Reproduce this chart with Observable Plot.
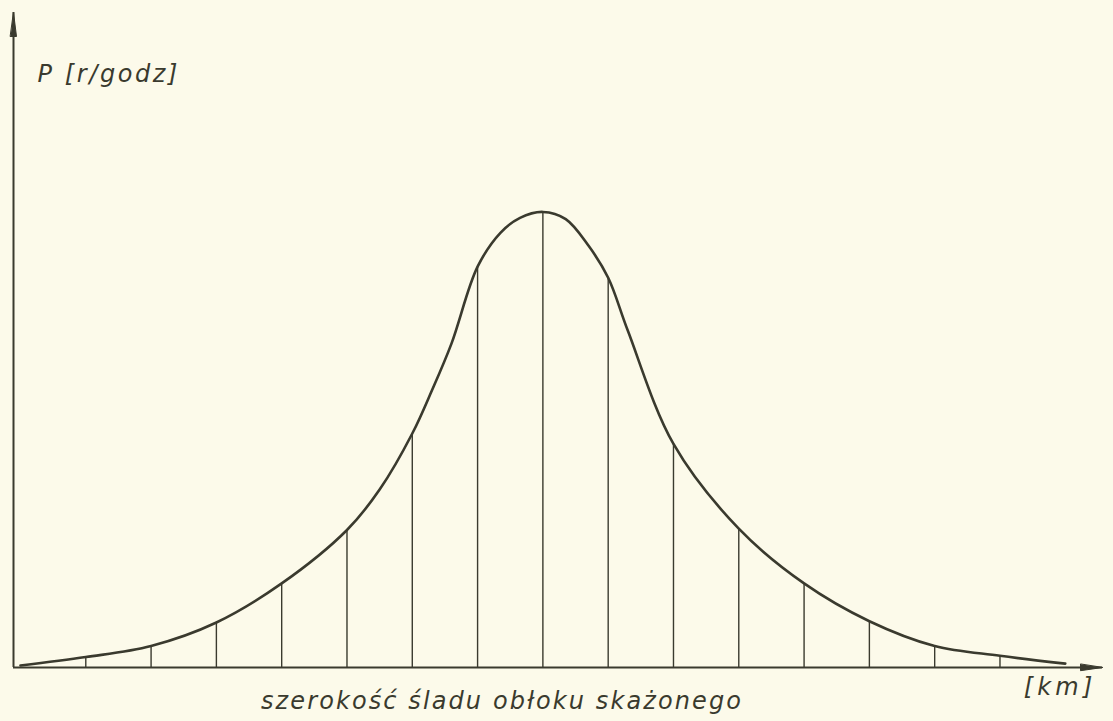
<!DOCTYPE html>
<html>
<head>
<meta charset="utf-8">
<script src="https://cdn.jsdelivr.net/npm/d3@7"></script>
<script src="https://cdn.jsdelivr.net/npm/@observablehq/plot@0.6"></script>
<style>
  html, body { margin: 0; padding: 0; background: #fcfaea; }
  #chart svg { display: block; }
</style>
</head>
<body>
<div id="chart"></div>
<script>
// Dose-rate curve (x in grid steps across the trace, P in relative units)
const curveX = [0, 1, 2, 3, 4, 5, 5.5, 6, 6.3, 6.6, 7, 7.35, 7.65, 8, 8.35, 8.7, 9, 9.3, 10, 11, 12, 13, 14, 15, 16];
const curveP = [0.3, 1.6, 3.3, 6.9, 12.9, 21.1, 27.3, 35.9, 42.5, 49.7, 61.5, 66.7, 69.0, 69.9, 68.8, 64.7, 59.8, 51.7, 34.3, 21.3, 12.9, 7.1, 3.3, 1.8, 0.6];
// vertical ordinates drawn at the interior grid points
const ordX = [1, 2, 3, 4, 5, 6, 7, 8, 9, 10, 11, 12, 13, 14, 15];
const ordP = [1.6, 3.3, 6.9, 12.9, 21.1, 35.9, 61.5, 69.9, 59.8, 34.3, 21.3, 12.9, 7.1, 3.3, 1.8];

const yLabel = "P [r/godz]";
const xUnit = "[km]";
const xTitle = "szerokość śladu obłoku skażonego";

const curve = curveX.map((x, i) => ({x, p: curveP[i]}));
const ordinates = ordX.map((x, i) => ({x, p: ordP[i]}));

const xDomain = [-0.107, 16.57];
const yDomain = [0, 100.5];
const ink = "#3a3a2e";
const font = "'DejaVu Sans', sans-serif";

const arrowHead = {
  draw(context, l, r) {
    context.moveTo(0, -l);
    context.lineTo(r, 0);
    context.lineTo(-r, 0);
    context.closePath();
  }
};

const textStyle = {fontFamily: font, fontSize: 24, fontStyle: "italic", fontWeight: 300, fill: ink, stroke: "none"};

const plot = Plot.plot({
  width: 1113,
  height: 721,
  marginLeft: 13,
  marginRight: 11,
  marginTop: 12,
  marginBottom: 54,
  style: {background: "#fcfaea", color: ink, fontFamily: font, overflow: "visible"},
  x: {domain: xDomain, axis: null},
  y: {domain: yDomain, axis: null},
  marks: [
    // axes
    Plot.ruleY([0], {stroke: ink, strokeWidth: 2}),
    Plot.ruleX([xDomain[0]], {stroke: ink, strokeWidth: 2}),
    Plot.vector([{x: xDomain[1], y: 0}], {x: "x", y: "y", rotate: 90, length: 22, r: 3.2, anchor: "end", shape: arrowHead, fill: ink, stroke: ink, strokeWidth: 1}),
    Plot.vector([{x: xDomain[0], y: yDomain[1]}], {x: "x", y: "y", rotate: 0, length: 24, r: 3, anchor: "end", shape: arrowHead, fill: ink, stroke: ink, strokeWidth: 1}),
    // vertical ordinates
    Plot.ruleX(ordinates, {x: "x", y1: 0, y2: "p", stroke: ink, strokeWidth: 1.4}),
    // dose-rate curve
    Plot.line(curve, {x: "x", y: "p", curve: "catmull-rom", stroke: ink, strokeWidth: 2.6, strokeLinejoin: "round", strokeLinecap: "round"}),
    // labels
    Plot.text([yLabel], {text: d => d, frameAnchor: "top-left", textAnchor: "start", dx: 24, dy: 52, ...textStyle}),
    Plot.text([xUnit], {text: d => d, frameAnchor: "bottom-right", textAnchor: "end", dx: -6, dy: 27, ...textStyle}),
    Plot.text([xTitle], {text: d => d, frameAnchor: "bottom", textAnchor: "middle", dx: -56, dy: 41, ...textStyle})
  ]
});

// hand-lettered look: widen the letter spacing of the labels
const spacing = new Map([[yLabel, "2.6px"], [xUnit, "4.2px"], [xTitle, "2.1px"]]);
d3.select(plot).selectAll("text").each(function() {
  const s = spacing.get(this.textContent);
  if (s) this.style.letterSpacing = s;
});

document.getElementById("chart").appendChild(plot);
</script>
</body>
</html>
